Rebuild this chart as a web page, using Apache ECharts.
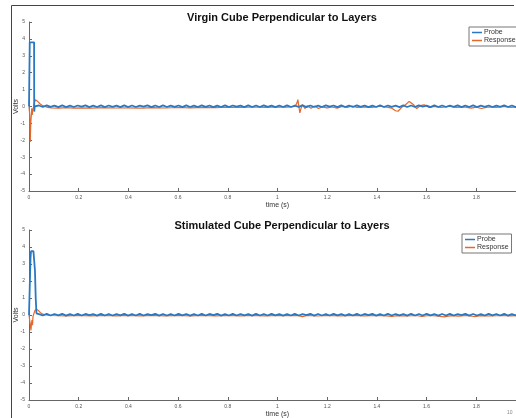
<!DOCTYPE html>
<html>
<head>
<meta charset="utf-8">
<script src="https://cdn.jsdelivr.net/npm/echarts@6/dist/echarts.min.js"></script>
<style>html,body{margin:0;padding:0;background:#fff;}#c{width:516px;height:418px;}</style>
</head>
<body>
<div id="c"></div>
<script>
// ---------- data ----------
const titles = ['Virgin Cube Perpendicular to Layers', 'Stimulated Cube Perpendicular to Layers'];
const seriesNames = ['Probe', 'Response'];
const xTicks = [0, 0.2, 0.4, 0.6, 0.8, 1, 1.2, 1.4, 1.6, 1.8, 2];
const yTicks = [-5, -4, -3, -2, -1, 0, 1, 2, 3, 4, 5];

// Virgin: probe pulse then noisy band around 0
const probe1Head = [[0,0],[0.002,0.05],[0.003,3.8],[0.006,3.85],[0.012,3.8],[0.018,3.85],[0.0205,3.8],[0.021,-0.3],[0.023,0],[0.028,0.04]];
const probe1Noise = [0.06,-0.03,0.07,-0.02,0.05,-0.04,0.07,-0.03,0.05,-0.03,0.06,-0.01,0.07,-0.04,0.05,-0.03,0.07,-0.03,0.06,-0.02,
0.05,-0.04,0.07,-0.03,0.06,-0.03,0.05,-0.01,0.07,-0.04,0.06,-0.03,0.07,-0.03,0.05,-0.02,0.06,-0.04,0.07,-0.03,
0.05,-0.03,0.07,-0.02,0.06,-0.04,0.05,-0.03,0.07,-0.03,0.06,-0.01,0.05,-0.04,0.07,-0.03,0.06,-0.03,0.07,-0.02,
0.05,-0.04,0.06,-0.03,0.07,-0.03,0.05,-0.02,0.07,-0.04,0.06,-0.03,0.05,-0.03,0.07,-0.01,0.06,-0.04,0.07,-0.03,
0.05,-0.03,0.07,-0.02,0.06,-0.04,0.05,-0.03,0.07,-0.03,0.06,-0.02,0.05,-0.04,0.07,-0.03,0.06,-0.03,0.07,-0.01,
0.05,-0.04,0.07,-0.03,0.06,-0.03,0.05,-0.02,0.07,-0.04,0.06,-0.03,0.07,-0.03,0.05,-0.02,0.06,-0.03,0.05,-0.02,
0.07,-0.03,0.06,-0.04,0.05,-0.02,0.07,-0.03];
const response1 = [[0,0],[0.003,-0.5],[0.005,-2.1],[0.007,-1.0],[0.009,-0.6],[0.011,-0.1],[0.013,-0.5],[0.015,-0.2],[0.018,-0.05],
[0.022,0.25],[0.026,0.4],[0.03,0.38],[0.035,0.3],[0.045,0.15],[0.055,0.05],[0.065,0],[0.075,-0.05],
[0.09,-0.08],[0.12,-0.1],[0.15,-0.07],[0.18,-0.1],[0.21,-0.08],[0.25,-0.1],[0.3,-0.07],[0.35,-0.09],[0.4,-0.08],[0.45,-0.1],
[0.5,-0.07],[0.55,-0.09],[0.6,-0.06],[0.65,-0.08],[0.7,-0.05],[0.75,-0.07],[0.8,-0.04],[0.85,-0.06],[0.9,-0.03],[0.95,-0.05],
[1.0,-0.02],[1.04,-0.04],[1.07,0.0],[1.078,0.2],[1.082,0.41],[1.086,0.0],[1.09,-0.38],[1.095,-0.1],[1.1,0.12],[1.11,-0.12],
[1.12,0.05],[1.135,-0.1],[1.15,0.03],[1.165,-0.12],[1.18,-0.02],[1.2,-0.08],[1.22,-0.03],[1.24,-0.1],[1.26,0.0],[1.28,-0.06],
[1.3,0.03],[1.32,-0.05],[1.35,-0.02],[1.38,-0.06],[1.41,0.02],[1.44,-0.04],[1.46,-0.1],[1.475,-0.25],[1.485,-0.28],[1.5,-0.05],
[1.515,0.1],[1.53,0.3],[1.538,0.33],[1.548,0.1],[1.56,-0.12],[1.575,0.05],[1.59,0.1],[1.61,-0.05],[1.63,0.0],[1.66,-0.06],
[1.69,0.02],[1.72,-0.05],[1.75,-0.02],[1.78,-0.1],[1.8,-0.04],[1.82,-0.12],[1.85,-0.03],[1.88,-0.06],[1.91,0.0],[1.94,-0.05],[1.97,-0.02],[2.0,-0.04]];

// Stimulated
const probe2Head = [[0,0],[0.004,0.05],[0.006,3.3],[0.008,3.75],[0.018,3.75],[0.022,3.7],[0.024,2.6],[0.027,1.0],[0.03,0.1],[0.035,0.04]];
const probe2Noise = [0.05,-0.03,0.07,-0.03,0.06,-0.02,0.07,-0.04,0.05,-0.03,0.07,-0.03,0.06,-0.01,0.05,-0.04,0.07,-0.03,0.06,
-0.03,0.05,-0.02,0.07,-0.04,0.06,-0.03,0.07,-0.03,0.05,-0.01,0.07,-0.04,0.06,-0.03,0.05,-0.03,0.07,-0.02,0.06,
-0.04,0.05,-0.03,0.07,-0.03,0.06,-0.01,0.07,-0.04,0.05,-0.03,0.07,-0.03,0.06,-0.02,0.05,-0.04,0.07,-0.03,0.06,
-0.03,0.07,-0.02,0.05,-0.04,0.06,-0.03,0.07,-0.03,0.05,-0.01,0.07,-0.04,0.06,-0.03,0.05,-0.03,0.07,-0.02,0.06,
-0.04,0.05,-0.03,0.07,-0.03,0.06,-0.01,0.07,-0.04,0.05,-0.03,0.07,-0.03,0.06,-0.02,0.05,-0.04,0.07,-0.03,0.06,
-0.03,0.07,-0.02,0.05,-0.04,0.06,-0.03,0.07,-0.03,0.05,-0.01,0.07,-0.04,0.06,-0.03,0.05,-0.03,0.07,-0.02,0.06,
-0.03,0.07,-0.04,0.05,-0.02,0.06,-0.03,0.07];
const response2 = [[0,0],[0.005,-0.1],[0.008,-0.9],[0.01,-0.5],[0.012,-0.3],[0.014,-0.6],[0.016,-0.1],[0.02,0.1],[0.025,0.3],
[0.03,0.35],[0.035,0.3],[0.045,0.15],[0.055,0.05],[0.07,0],[0.09,-0.03],[0.15,-0.05],[0.2,-0.03],[0.25,-0.05],[0.3,-0.03],
[0.35,-0.05],[0.4,-0.03],[0.45,-0.05],[0.5,-0.03],[0.55,-0.05],[0.6,-0.03],[0.65,-0.05],[0.7,-0.03],[0.75,-0.05],[0.8,-0.03],
[0.85,-0.05],[0.9,-0.03],[0.95,-0.05],[1.0,-0.03],[1.05,-0.04],[1.08,-0.02],[1.1,-0.1],[1.12,-0.03],[1.16,-0.06],[1.2,-0.03],
[1.25,-0.05],[1.3,-0.02],[1.35,-0.05],[1.4,-0.03],[1.44,-0.05],[1.46,-0.09],[1.48,-0.04],[1.52,-0.06],[1.56,-0.03],[1.58,-0.09],
[1.61,-0.03],[1.64,-0.06],[1.67,-0.11],[1.7,-0.04],[1.73,-0.07],[1.76,-0.03],[1.79,-0.09],[1.82,-0.04],[1.86,-0.06],[1.9,-0.03],
[1.94,-0.05],[1.97,-0.03],[2.0,-0.04]];

const noiseStart = 0.04, noiseStep = 0.0156; // sampling grid of the noise band
function withNoise(head, noise){
  const out = head.slice();
  noise.forEach((v,i)=>out.push([noiseStart + i*noiseStep, v]));
  return out;
}

// ---------- chart ----------
const FONT = 'Liberation Sans';
const BLUE = '#2a78c2', ORANGE = '#e4672b';
const chart = echarts.init(document.getElementById('c'), null, {renderer:'canvas'});

function xAxis(gi){
  return {type:'value', gridIndex:gi, min:0, max:2, interval:0.2,
    name:'time (s)', nameLocation:'middle', nameGap:11,
    nameTextStyle:{fontFamily:FONT, fontSize:7, color:'#333'},
    axisLine:{onZero:false, lineStyle:{color:'#666', width:1}},
    axisTick:{inside:true, length:3, lineStyle:{color:'#666'}},
    axisLabel:{fontFamily:FONT, fontSize:5, color:'#555', margin:4,
      formatter:v=>String(Math.round(v*10)/10)},
    splitLine:{show:false}};
}
function yAxis(gi){
  return {type:'value', gridIndex:gi, min:-5, max:5, interval:1,
    name:'Volts', nameLocation:'middle', nameGap:9, nameRotate:90, nameMoveOverlap:false,
    nameTextStyle:{fontFamily:FONT, fontSize:7, color:'#333'},
    axisLine:{show:true, lineStyle:{color:'#666', width:1}},
    axisTick:{show:true, inside:true, length:3, lineStyle:{color:'#666'}},
    axisLabel:{fontFamily:FONT, fontSize:5, color:'#555', margin:4},
    splitLine:{show:false}};
}
function legend(left, top){
  return {show:true, data:seriesNames, left:left, top:top, orient:'vertical',
    backgroundColor:'#fff', borderColor:'#777', borderWidth:1, borderRadius:0,
    padding:[2,3,2,3], itemGap:1, itemWidth:10, itemHeight:1.5, icon:'rect',
    selectedMode:false, textStyle:{fontFamily:FONT, fontSize:7, color:'#333', padding:[0,0,0,-3]}};
}

chart.setOption({
  animation:false,
  backgroundColor:'#fff',
  title:[
    {text:titles[0], left:277, top:7, textAlign:'center', textStyle:{fontFamily:FONT, fontSize:11, fontWeight:'bold', color:'#111'}},
    {text:titles[1], left:277, top:215, textAlign:'center', textStyle:{fontFamily:FONT, fontSize:11, fontWeight:'bold', color:'#111'}}
  ],
  legend:[legend(469,27), legend(462,234)],
  grid:[
    {left:29, right:-10, top:22, height:169, containLabel:false, outerBoundsMode:'none'},
    {left:29, right:-10, top:230, height:170, containLabel:false, outerBoundsMode:'none'}
  ],
  xAxis:[xAxis(0), xAxis(1)],
  yAxis:[yAxis(0), yAxis(1)],
  series:[
    {name:seriesNames[0], type:'line', xAxisIndex:0, yAxisIndex:0, data:withNoise(probe1Head, probe1Noise), showSymbol:false, lineStyle:{color:BLUE, width:1.8}, itemStyle:{color:BLUE}, z:3},
    {name:seriesNames[1], type:'line', xAxisIndex:0, yAxisIndex:0, data:response1, showSymbol:false, lineStyle:{color:ORANGE, width:1.2}, itemStyle:{color:ORANGE}, z:2},
    {name:seriesNames[0], type:'line', xAxisIndex:1, yAxisIndex:1, data:withNoise(probe2Head, probe2Noise), showSymbol:false, lineStyle:{color:BLUE, width:1.8}, itemStyle:{color:BLUE}, z:3},
    {name:seriesNames[1], type:'line', xAxisIndex:1, yAxisIndex:1, data:response2, showSymbol:false, lineStyle:{color:ORANGE, width:1.2}, itemStyle:{color:ORANGE}, z:2}
  ],
  graphic:[
    {type:'line', shape:{x1:11.5, y1:5.5, x2:514, y2:5.5}, style:{stroke:'#444', lineWidth:1}},
    {type:'line', shape:{x1:11.5, y1:5.5, x2:11.5, y2:418}, style:{stroke:'#444', lineWidth:1}},
    {type:'text', left:507, top:410, style:{text:'10', font:'5px "Liberation Sans"', fill:'#888'}}
  ]
});
</script>
</body>
</html>
